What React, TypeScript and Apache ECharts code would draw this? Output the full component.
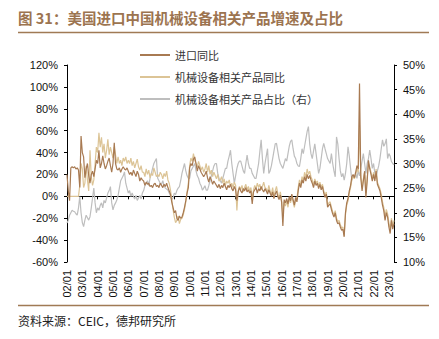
import React, { useEffect, useRef } from "react";
import * as echarts from "echarts";

// Monthly data from 2002/01 to 2023/05
const startYear = 2002;
const monthCount = 257;

// 进口同比 (%)
const importYoY: number[] = [
  20, 5, -4, 26, 27, 26, 27, 25, 26, 24, 8, 55, // 2002
  40, 36, 17, 25, 30, 19, 12, 20, 23, 18, 25, 33, // 2003
  30, 42, 26, 30, 37, 30, 25, 28, 32, 35, 28, 22, // 2004
  30, 49, 30, 25, 24, 26, 22, 25, 27, 25, 24, 26, // 2005
  23, 20, 22, 19, 24, 21, 18, 23, 20, 14, 17, 15, // 2006
  14, 10, 13, 11, 12, 9, 10, 8, 11, 12, 9, 10, // 2007
  8, 12, 10, 8, 11, 9, 12, 8, 5, 2, -5, -10, // 2008
  -15, -13, -20, -22, -18, -20, -19, -15, -10, -4, 3, 8, // 2009
  26, 30, 28, 34, 36, 30, 23, 28, 25, 22, 20, 18, // 2010
  20, 23, 17, 13, 18, 15, 11, 14, 12, 10, 8, 11, // 2011
  7, 10, 8, 12, 9, 6, 10, 8, 11, 7, 5, 9, // 2012
  6, -4, 4, 8, 5, 3, 7, 5, 8, 4, 6, 3, // 2013
  5, -7, 4, 6, 8, 3, 7, 5, 9, 6, 4, 7, // 2014
  5, 2, 6, 3, 0, 4, -2, 2, 5, 0, -3, 1, // 2015
  -5, -27, -3, -6, -2, -7, 0, -4, 2, -3, -8, -1, // 2016
  -5, 5, 12, 8, 15, 12, 18, 14, 20, 16, 19, 15, // 2017
  12, 8, 14, 10, 12, 7, 11, 6, 9, 3, -1, 2, // 2018
  -10, -8, -7, -12, -16, -19, -15, -22, -25, -24, -28, -31, // 2019
  -30, -37, -15, -6, -2, 5, 10, 18, 20, 17, 22, 28, // 2020
  25, 103, 17, 5, 14, 23, -1, 14, 33, 25, 20, 14, // 2021
  20, 14, 23, 11, 8, 5, -1, -8, -13, -22, -15, -19, // 2022
  -28, -34, -22, -30, -25, // 2023
];

// 机械设备相关产品同比 (%)
const machineryYoY: number[] = [
  0, 0, 0, 0, 0, 0, 0, 0, 0, 0, 10, 30, // 2002
  25, 8, 12, 28, 15, 5, 42, 18, 10, 15, 30, 45, // 2003
  40, 58, 45, 54, 40, 48, 35, 42, 52, 38, 45, 40, // 2004
  35, 45, 38, 30, 36, 30, 33, 28, 35, 32, 36, 30, // 2005
  33, 30, 35, 28, 32, 26, 30, 34, 27, 24, 28, 22, // 2006
  22, 18, 25, 20, 24, 17, 21, 19, 26, 22, 18, 20, // 2007
  18, 22, 20, 16, 21, 18, 23, 15, 12, 6, -3, -12, // 2008
  -19, -24, -22, -18, -25, -21, -20, -17, -12, -5, 4, 12, // 2009
  28, 35, 32, 39, 33, 30, 27, 32, 28, 24, 27, 22, // 2010
  25, 30, 22, 28, 20, 24, 18, 22, 19, 16, 20, 14, // 2011
  15, 18, 12, 16, 10, 14, 12, 15, 9, 12, 8, 13, // 2012
  10, -13, 5, 9, 6, 10, 4, 8, 11, 6, 9, 5, // 2013
  8, -3, 6, 10, 7, 12, 8, 11, 6, 9, 13, 8, // 2014
  7, 4, 10, 5, 2, 8, 0, 5, 9, 3, -2, 4, // 2015
  -3, -18, -5, -9, -4, -10, -2, -6, 0, -5, -10, -3, // 2016
  -2, 8, 15, 10, 18, 14, 22, 17, 25, 20, 23, 18, // 2017
  15, 10, 16, 12, 14, 9, 13, 8, 11, 5, 1, 4, // 2018
  -8, -6, -5, -10, -14, -17, -13, -20, -23, -22, -26, -29, // 2019
  -28, -36, -17, -8, -4, 3, 8, 15, 18, 16, 20, 25, // 2020
  22, 65, 20, 8, 16, 22, 3, 17, 30, 27, 22, 16, // 2021
  22, 16, 25, 13, 10, 7, 2, -5, -10, -18, -12, -16, // 2022
  -24, -30, -20, -27, -22, // 2023
];

// 机械设备相关产品占比（右）(%)
const machineryShare: number[] = [
  17.9, 18.5, 19.5, 20, 20.5, 20.3, 20.2, 19.8, 19.5, 21, 23.3, 20, // 2002
  18, 17.2, 18.5, 19.5, 19, 18.5, 19.2, 21, 23, 25, 22, 20, // 2003
  21, 20.5, 21.5, 22, 21, 22.5, 22, 23, 24, 24.5, 25.3, 22, // 2004
  20.6, 21.5, 22, 22.6, 23.5, 25, 26.5, 27, 27.5, 28.3, 26, 25, // 2005
  24, 24.5, 23.3, 24, 23.3, 22.8, 23.5, 22.5, 23, 23.5, 22.8, 24, // 2006
  24.5, 25.5, 26, 26.5, 25.5, 27, 28, 29, 30, 30.5, 31, 27, // 2007
  26.5, 26, 25.8, 26.5, 25.5, 25, 24.8, 24.6, 24, 23.5, 22.6, 23, // 2008
  24, 23.7, 24.5, 25, 25.3, 26.5, 28, 29, 30, 28.5, 27.5, 27, // 2009
  27, 28.5, 29, 29.5, 30, 28.5, 27.5, 27, 26, 25.5, 24.6, 25, // 2010
  25.5, 24.6, 24.6, 25.5, 26.5, 27.5, 28.5, 29.5, 30, 30, 28, 27, // 2011
  26.5, 26, 27, 28, 29, 29, 30.5, 31.5, 32.7, 30, 28, 26, // 2012
  27.5, 29, 30, 30.5, 30.5, 29.5, 28.5, 28, 30, 31.7, 30, 29, // 2013
  29, 28, 27.5, 27, 27, 28.5, 30, 32.5, 34.8, 31, 28, 30, // 2014
  31.5, 33, 28, 28.5, 29.5, 31, 32.5, 34, 34.1, 32.5, 31, 30, // 2015
  29.5, 29, 30, 31, 30.5, 32, 33.5, 34.5, 34.8, 33, 31.5, 31, // 2016
  30, 29.5, 29.4, 31, 33, 32, 33.5, 35, 36.5, 37.5, 34, 32, // 2017
  31, 32.5, 34, 32, 30, 28, 29, 31, 33, 34.1, 33, 32, // 2018
  31, 30.5, 30, 32, 30, 28.5, 27.3, 35.4, 34, 31, 28.5, 27.3, // 2019
  28, 26.6, 28, 30, 33.4, 31.5, 29, 26.6, 27.5, 27, 28, 27, // 2020
  28.5, 27.5, 29, 30.5, 32, 30, 28, 30, 31, 32.7, 31, 29, // 2021
  30, 28, 27.3, 28.5, 29.5, 31, 33, 34.8, 33.5, 34, 35, 31, // 2022
  32, 31.5, 30.4, 30, 29.7, // 2023
];

const seriesNames = ["进口同比", "机械设备相关产品同比", "机械设备相关产品占比（右）"];
const seriesColors = ["#A87A52", "#DCC496", "#BEBEBE"];

const categories: string[] = [];
for (let i = 0; i < monthCount; i++) {
  const y = startYear + Math.floor(i / 12);
  const m = (i % 12) + 1;
  categories.push(String(y % 100).padStart(2, "0") + "/" + String(m).padStart(2, "0"));
}

const titleText = "图 31：美国进口中国机械设备相关产品增速及占比";
const sourceText = "资料来源：CEIC，德邦研究所";

export default function App() {
  const ref = useRef<HTMLDivElement>(null);
  useEffect(() => {
    if (!ref.current) return;
    const chart = echarts.init(ref.current, undefined, { renderer: "svg" });
    const latin = "Liberation Sans, Arial, sans-serif";
    const cjk = "Noto Sans CJK SC, sans-serif";
    const legendTops = [48, 70, 92];
    chart.setOption({
      animation: false,
      backgroundColor: "#ffffff",
      grid: { left: 67, right: 45, top: 65, bottom: 77, containLabel: false },
      legend: seriesNames.map((name, i) => ({
        orient: "vertical",
        left: 140,
        top: legendTops[i],
        padding: 0,
        icon: "rect",
        itemWidth: 30,
        itemHeight: 2,
        itemGap: 5,
        data: [name],
        textStyle: { fontSize: 11, lineHeight: 14, color: "#333", fontFamily: cjk },
      })),
      xAxis: [
        {
          type: "category",
          data: categories,
          boundaryGap: false,
          position: "bottom",
          axisLine: { show: false, onZero: false },
          axisTick: { show: false },
          axisLabel: {
            interval: 11,
            rotate: 90,
            fontSize: 11,
            color: "#111",
            fontFamily: latin,
            margin: 8,
          },
          splitLine: { show: false },
        },
        {
          type: "category",
          data: categories,
          boundaryGap: false,
          position: "bottom",
          axisLine: { show: true, onZero: true, lineStyle: { color: "#000", width: 1 } },
          axisTick: { show: true, interval: 11, length: 3, lineStyle: { color: "#000" } },
          axisLabel: { show: false },
          splitLine: { show: false },
        },
      ],
      yAxis: [
        {
          type: "value",
          min: -60,
          max: 120,
          interval: 20,
          axisLine: { show: true, lineStyle: { color: "#000" } },
          axisTick: { show: true, length: 3, lineStyle: { color: "#000" } },
          axisLabel: { formatter: "{value}%", fontSize: 11, color: "#111", fontFamily: latin, margin: 9 },
          splitLine: { show: false },
        },
        {
          type: "value",
          min: 10,
          max: 50,
          interval: 5,
          position: "right",
          axisLine: { show: true, lineStyle: { color: "#000" } },
          axisTick: { show: true, length: 3, lineStyle: { color: "#000" } },
          axisLabel: { formatter: "{value}%", fontSize: 11, color: "#111", fontFamily: latin, margin: 9 },
          splitLine: { show: false },
        },
      ],
      series: [
        {
          name: seriesNames[2],
          type: "line",
          yAxisIndex: 1,
          data: machineryShare,
          symbol: "none",
          lineStyle: { color: seriesColors[2], width: 1.2 },
          itemStyle: { color: seriesColors[2] },
          z: 2,
        },
        {
          name: seriesNames[1],
          type: "line",
          yAxisIndex: 0,
          data: machineryYoY,
          symbol: "none",
          lineStyle: { color: seriesColors[1], width: 1.2 },
          itemStyle: { color: seriesColors[1] },
          z: 3,
        },
        {
          name: seriesNames[0],
          type: "line",
          yAxisIndex: 0,
          data: importYoY,
          symbol: "none",
          lineStyle: { color: seriesColors[0], width: 1.2 },
          itemStyle: { color: seriesColors[0] },
          z: 4,
        },
      ],
      graphic: [
        {
          type: "text",
          left: 18,
          top: 10,
          style: { text: titleText, fontSize: 14.5, fontWeight: "bold", fill: "#9C7450", fontFamily: cjk },
        },
        {
          type: "line",
          shape: { x1: 18, y1: 32.5, x2: 429, y2: 32.5 },
          style: { stroke: "#A07A55", lineWidth: 1.5 },
        },
        {
          type: "line",
          shape: { x1: 18, y1: 305.5, x2: 429, y2: 305.5 },
          style: { stroke: "#A07A55", lineWidth: 1.5 },
        },
        {
          type: "text",
          left: 18,
          top: 314,
          style: { text: sourceText, fontSize: 12, fill: "#222", fontFamily: cjk },
        },
      ],
    });
    return () => chart.dispose();
  }, []);
  return <div ref={ref} style={{ position: "fixed", left: 0, top: 0, width: 439, height: 339 }} />;
}
